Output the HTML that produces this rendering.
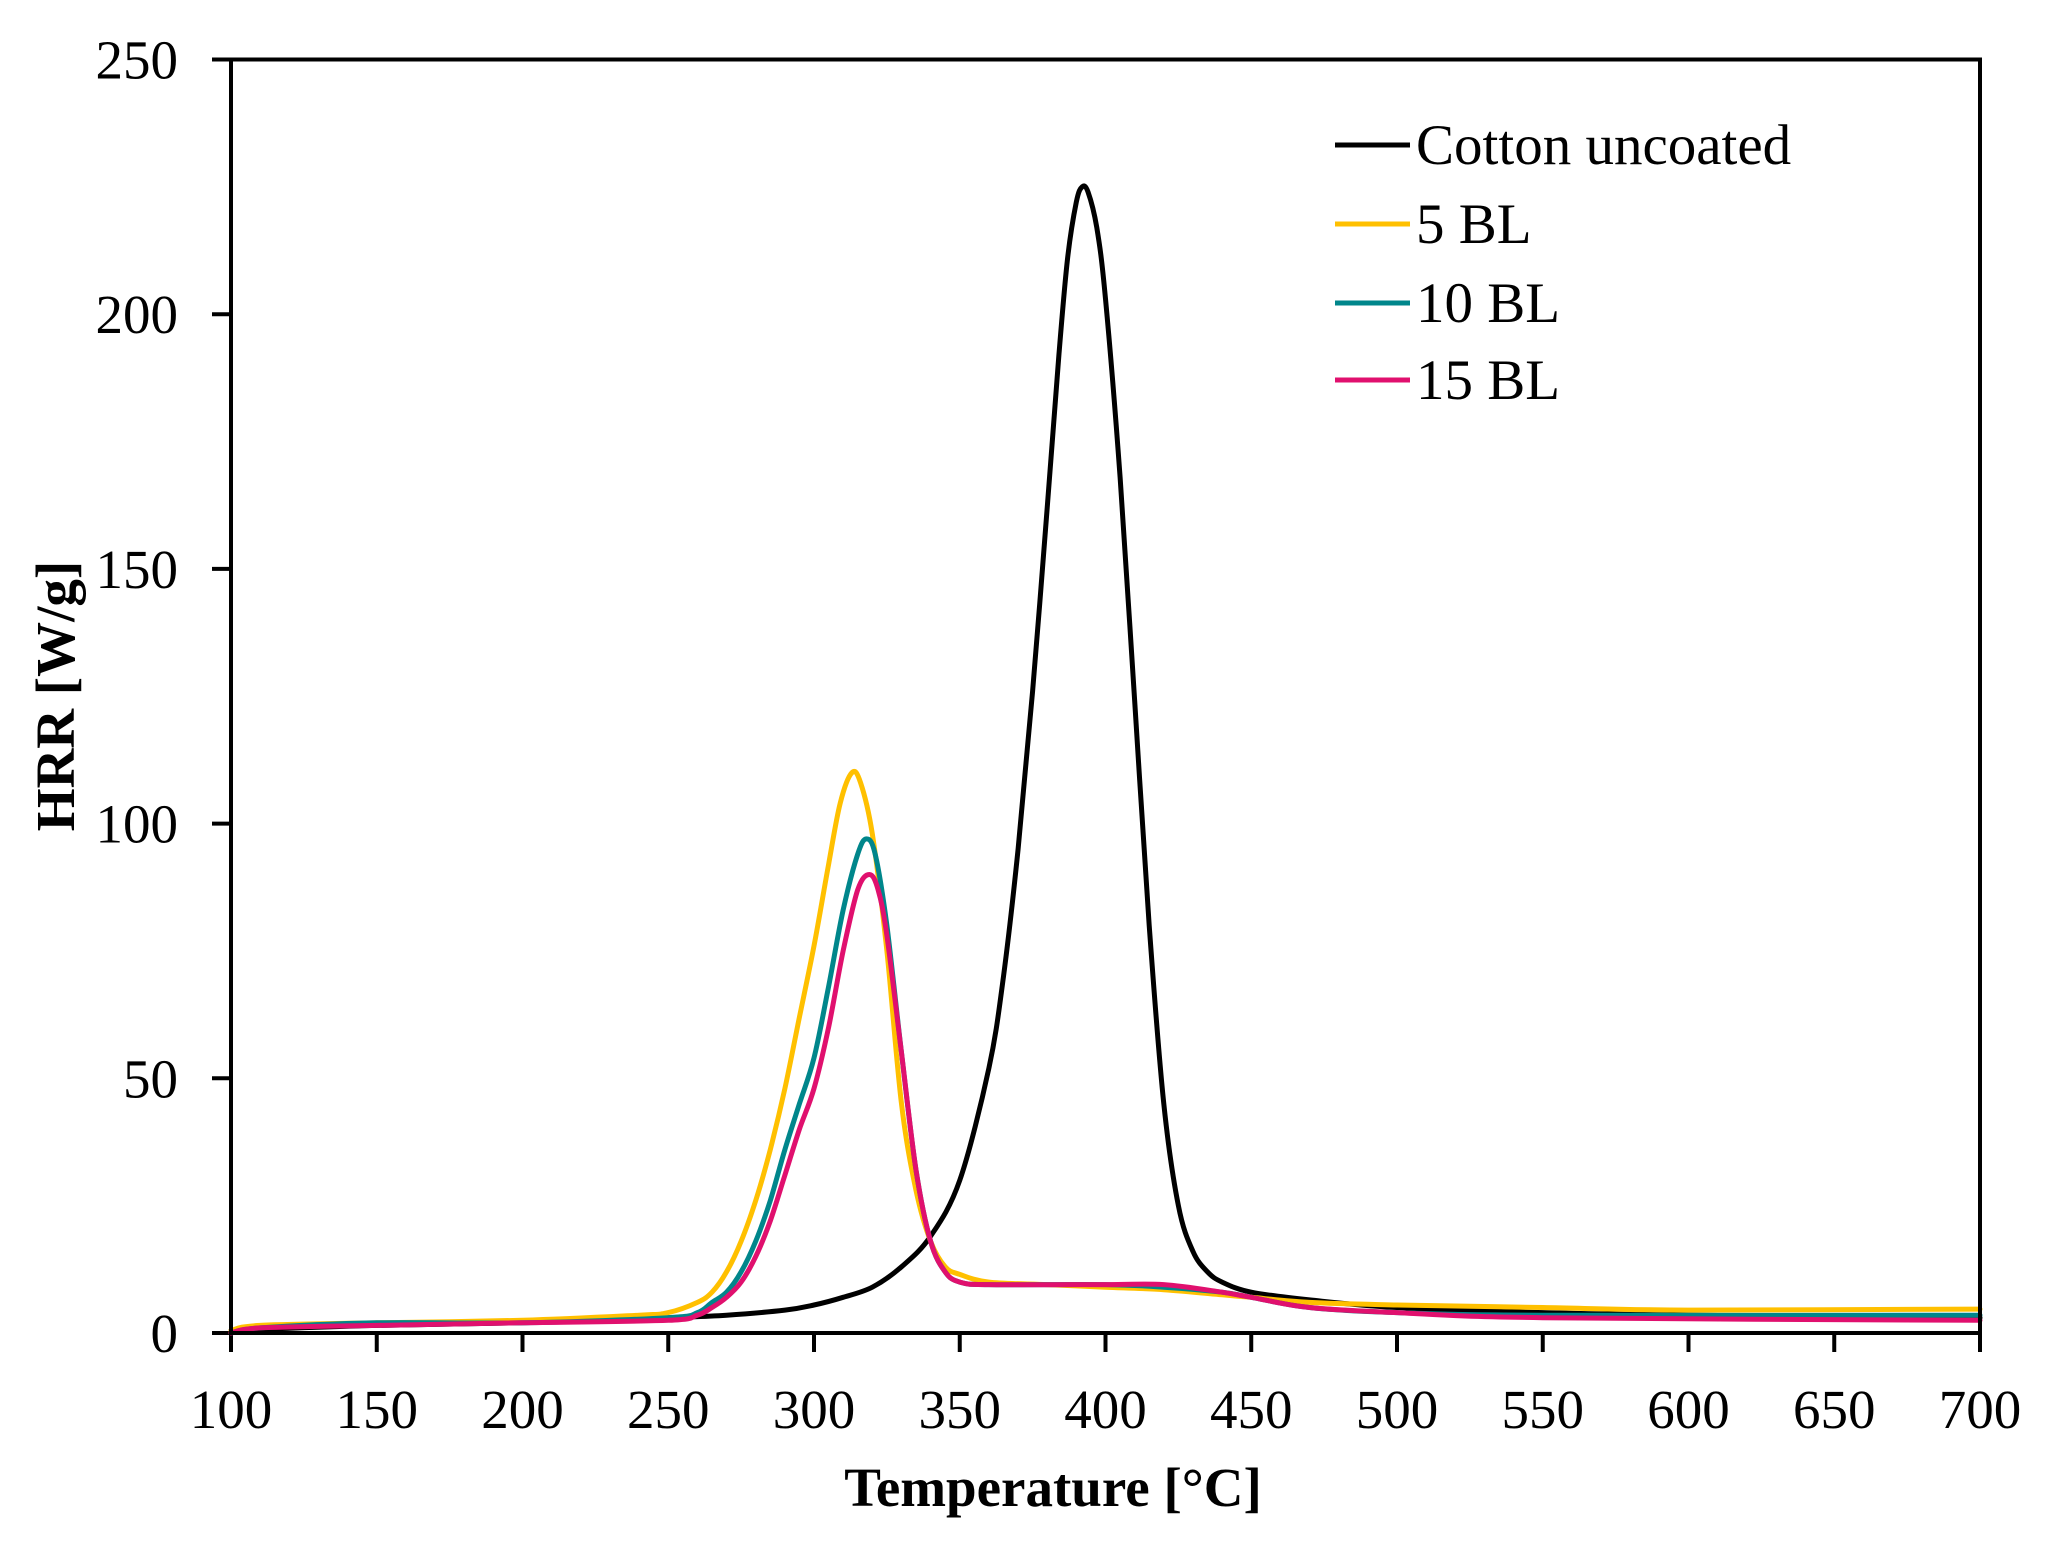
<!DOCTYPE html>
<html><head><meta charset="utf-8"><style>
html,body{margin:0;padding:0;background:#fff;}
svg text{font-family:"Liberation Serif",serif;fill:#000;}
</style></head><body>
<svg id="s" width="2068" height="1542" viewBox="0 0 2068 1542" xmlns="http://www.w3.org/2000/svg">
<rect width="2068" height="1542" fill="#fff"/>
<g id="ticks"></g>
<g id="curves" fill="none" stroke-linejoin="round" stroke-linecap="round"></g>
<rect x="231" y="59.5" width="1749" height="1273.5" fill="none" stroke="#000" stroke-width="4"/>
<g font-size="55" text-anchor="middle" id="xl"></g>
<g font-size="55" text-anchor="end" id="yl"></g>
<text x="1053" y="1506" font-size="55" font-weight="bold" text-anchor="middle">Temperature [°C]</text>
<text transform="translate(74,696) rotate(-90)" font-size="55" font-weight="bold" text-anchor="middle">HRR [W/g]</text>
<g font-size="57">
<line x1="1335" y1="145" x2="1410" y2="145" stroke="#000" stroke-width="5"/>
<text x="1416" y="164">Cotton uncoated</text>
<line x1="1335" y1="224" x2="1410" y2="224" stroke="#FFC000" stroke-width="5"/>
<text x="1416" y="243">5 BL</text>
<line x1="1335" y1="303" x2="1410" y2="303" stroke="#00868B" stroke-width="5"/>
<text x="1416" y="322">10 BL</text>
<line x1="1335" y1="380" x2="1410" y2="380" stroke="#E0106E" stroke-width="5"/>
<text x="1416" y="399">15 BL</text>
</g>
</svg>
<script>
var X=function(t){return 231+(t-100)/600*1749;},Y=function(v){return 1333-v/250*1273.5;};
var NS="http://www.w3.org/2000/svg";
function el(p,n,a,txt){var e=document.createElementNS(NS,n);for(var k in a)e.setAttribute(k,a[k]);if(txt!==undefined)e.textContent=txt;p.appendChild(e);return e;}
var tk=document.getElementById('ticks'),xl=document.getElementById('xl'),yl=document.getElementById('yl');
for(var t=100;t<=700;t+=50){el(tk,'line',{x1:X(t),y1:1333,x2:X(t),y2:1352,stroke:'#000','stroke-width':4});el(xl,'text',{x:X(t),y:1428},t);}
for(var v=0;v<=250;v+=50){el(tk,'line',{x1:212,y1:Y(v),x2:231,y2:Y(v),stroke:'#000','stroke-width':4});el(yl,'text',{x:178,y:Y(v)+19},v);}
var data={
'#000':[[100,0.5],[150,1.5],[200,2],[250,3],[270,3.5],[290,4.5],[300,5.5],[310,7],[320,9],[330,13],[340,19],[350,30],[360,52],[365,70],[370,95],[375,126],[380,162],[384,192],[387,211],[390,222],[392,225],[394,224],[397,217],[400,203],[405,168],[410,124],[415,80],[420,45],[425,25],[430,16],[435,12],[440,10],[450,8],[470,6.5],[500,5],[550,4],[600,3.5],[700,3]],
'#FFC000':[[100,0.5],[110,1.5],[150,2],[200,2.5],[240,3.5],[250,4],[260,6],[265,8],[270,12],[275,18],[280,26],[285,36],[290,48],[295,62],[300,76],[305,92],[309,104],[313,110],[316,108],[320,98],[325,75],[330,45],[335,28],[340,18],[345,13],[350,11.5],[360,10],[380,9.5],[400,9],[420,8.5],[440,7.5],[450,7],[470,6],[500,5.5],[550,5],[600,4.5],[700,4.7]],
'#00868B':[[100,0],[110,1],[150,2],[200,2],[250,3],[260,4],[265,6],[270,8],[275,12],[280,18],[285,26],[290,36],[295,45],[300,54],[305,68],[310,83],[315,94],[318,97],[321,94],[325,80],[330,55],[335,32],[340,18],[345,12],[350,10],[360,9.5],[400,9.5],[420,9],[440,8],[450,7],[470,5],[500,4],[550,3.5],[700,3.5]],
'#E0106E':[[100,0],[110,1],[150,1.5],[200,2],[250,2.5],[260,3.5],[265,5],[270,7],[275,10],[280,15],[285,22],[290,31],[295,40],[300,48],[305,60],[310,75],[315,87],[319,90],[322,87],[325,78],[330,55],[335,32],[340,18],[345,12],[350,10],[360,9.5],[400,9.5],[420,9.5],[440,8],[450,7],[470,5],[500,4],[550,3],[700,2.5]]};
var cg=document.getElementById('curves');
['#000','#FFC000','#00868B','#E0106E'].forEach(function(c){
 var p=data[c].map(function(q){return [X(q[0]),Y(q[1])];});
 var d='M'+p[0][0]+','+p[0][1];
 for(var i=0;i<p.length-1;i++){var p0=p[i>0?i-1:0],p1=p[i],p2=p[i+1],p3=p[i+2<p.length?i+2:i+1];
  var c1=[p1[0]+(p2[0]-p0[0])/6,p1[1]+(p2[1]-p0[1])/6],c2=[p2[0]-(p3[0]-p1[0])/6,p2[1]-(p3[1]-p1[1])/6];
  d+=' C'+c1[0].toFixed(1)+','+c1[1].toFixed(1)+' '+c2[0].toFixed(1)+','+c2[1].toFixed(1)+' '+p2[0].toFixed(1)+','+p2[1].toFixed(1);}
 el(cg,'path',{d:d,stroke:c,'stroke-width':5});
});
</script>
</body></html>
